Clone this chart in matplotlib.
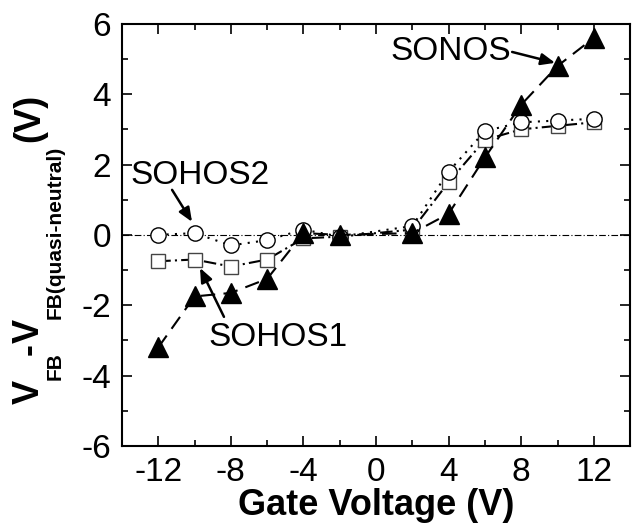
import numpy as np
import matplotlib
matplotlib.use("Agg")
import matplotlib.pyplot as plt

plt.rcParams['font.family'] = ['Liberation Sans', 'DejaVu Sans']
plt.rcParams['axes.unicode_minus'] = False

# gate voltage (V)
vg = [-12, -10, -8, -6, -4, -2, 2, 4, 6, 8, 10, 12]
# flatband shift relative to quasi-neutral (V)
sonos = [-3.2, -1.75, -1.65, -1.25, 0.05, 0.0, 0.05, 0.6, 2.2, 3.7, 4.8, 5.6]
sohos1 = [-0.75, -0.7, -0.9, -0.7, -0.1, -0.05, 0.15, 1.5, 2.7, 3.0, 3.1, 3.2]
sohos2 = [0.0, 0.05, -0.3, -0.15, 0.15, -0.05, 0.25, 1.8, 2.95, 3.2, 3.25, 3.3]

W, H = 632, 529
fig = plt.figure(figsize=(W / 100, H / 100), dpi=100)
ax = fig.add_axes([0.193, 0.157, 0.804, 0.798])

ax.axhline(0, color="black", lw=0.8, ls=(0, (6, 2, 1, 2)), zorder=1)
ax.plot(vg, sohos2, ls=(0, (1, 3)), color="black", lw=1.5, marker="o", ms=11,
        mfc="white", mec="black", mew=1.0, zorder=3)
ax.plot(vg, sohos1, ls=(0, (6, 2, 1, 2)), color="black", lw=1.5, marker="s", ms=10,
        mfc="white", mec="#444444", mew=1.0, zorder=2)
ax.plot(vg, sonos, ls=(0, (7, 4)), color="black", lw=1.5, marker="^", ms=14,
        mfc="black", mec="black", zorder=4)

arr = dict(arrowstyle="-|>,head_length=0.6,head_width=0.25", color="black", lw=1.8,
           mutation_scale=14, shrinkA=0, shrinkB=0)
ax.annotate("", xy=(9.87, 4.89), xytext=(7.5, 5.2), arrowprops=arr)
ax.annotate("", xy=(-10.14, 0.37), xytext=(-11.24, 1.28), arrowprops=arr)
ax.annotate("", xy=(-9.7, -0.94), xytext=(-8.38, -2.33), arrowprops=arr)
ax.text(4.14, 5.2, "SONOS", fontsize=24, ha="center", va="center")
ax.text(-9.7, 1.7, "SOHOS2", fontsize=24, ha="center", va="center")
ax.text(-5.4, -2.93, "SOHOS1", fontsize=24, ha="center", va="center")

ax.set_xlim(-14, 14)
ax.set_ylim(-6, 6)
ax.set_xticks(np.arange(-12, 13, 4))
ax.set_xticks(np.arange(-14, 15, 2), minor=True)
ax.set_yticks(np.arange(-6, 7, 2))
ax.set_yticks(np.arange(-6, 7, 1), minor=True)
ax.tick_params(which="both", direction="in", top=True, right=True, labelsize=24, width=1.2)
ax.tick_params(which="major", length=7, pad=8)
ax.tick_params(which="minor", length=4)
for s in ax.spines.values():
    s.set_linewidth(1.5)

ax.set_xlabel("Gate Voltage (V)", fontsize=26, fontweight="bold", labelpad=0)

# y label built piece by piece so the subscripts sit low like the original
# (text, size, is_subscript, extra gap in px after it)
pieces = [("V", 26, False, 0), ("FB", 15, True, -3), ("-", 26, False, 0), ("V", 26, False, 0),
          ("FB(quasi-neutral)", 15, True, 4), ("(V)", 26, False, 0)]
x_main, x_sub = 39 / W, 61 / W
y = 1 - 404 / H
r = fig.canvas.get_renderer()
for txt, fs, sub, gap in pieces:
    t = fig.text(x_sub if sub else x_main, y, txt, fontsize=fs, fontweight="bold",
                 rotation=90, rotation_mode="anchor", ha="left", va="baseline")
    bb = t.get_window_extent(r)
    y += (bb.height + gap) / H

fig.savefig("out.png", dpi=100)
